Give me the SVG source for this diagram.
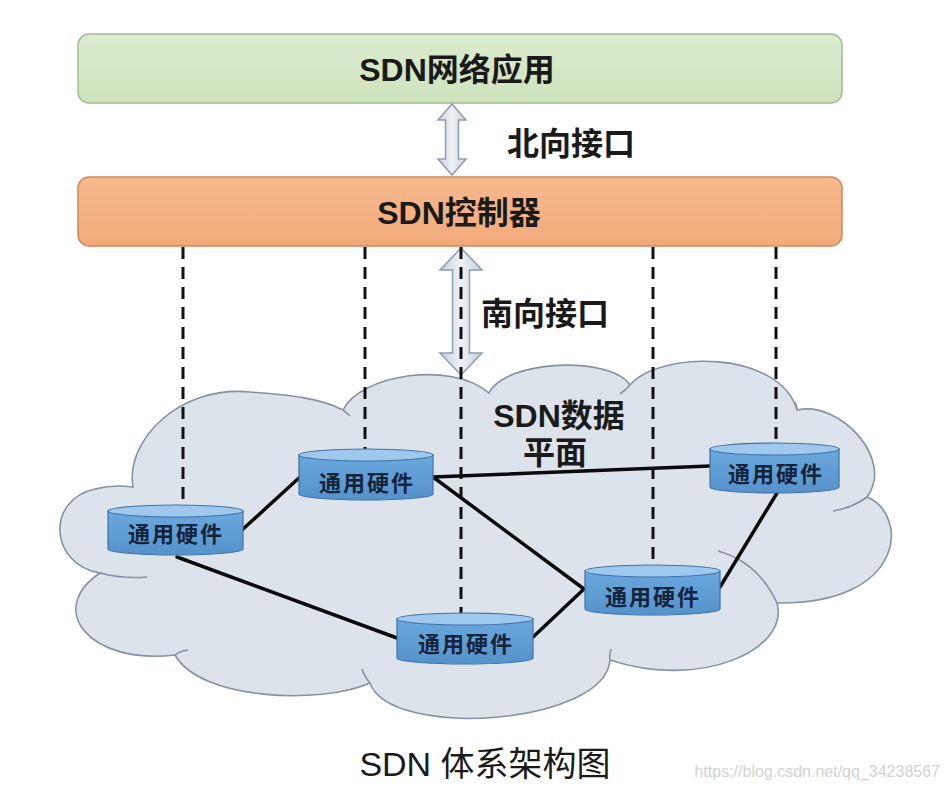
<svg xmlns="http://www.w3.org/2000/svg" width="949" height="790" viewBox="0 0 949 790">
<defs>
<linearGradient id="gGreen" x1="0" y1="0" x2="0" y2="1"><stop offset="0" stop-color="#dcecd0"/><stop offset="1" stop-color="#cde3bc"/></linearGradient>
<linearGradient id="gOrange" x1="0" y1="0" x2="0" y2="1"><stop offset="0" stop-color="#f7b98e"/><stop offset="1" stop-color="#f2aa7a"/></linearGradient>
<linearGradient id="gArrow" x1="0" y1="0" x2="1" y2="0"><stop offset="0" stop-color="#c8d1dc"/><stop offset="0.5" stop-color="#eef1f4"/><stop offset="1" stop-color="#c8d1dc"/></linearGradient>
<linearGradient id="gCyl" x1="0" y1="0" x2="0" y2="1"><stop offset="0" stop-color="#6aa8de"/><stop offset="1" stop-color="#5592cc"/></linearGradient>
<style>
.bar{stroke-width:1.5}
.t{font-family:'Liberation Sans','Noto Sans CJK SC',sans-serif;fill:#1a1a1a;text-anchor:middle}
.big{font-size:32px;font-weight:bold}
.hw{font-size:22px;letter-spacing:2px;fill:#14233a;font-weight:bold}
.arrow{fill:url(#gArrow);stroke:#8c9db2;stroke-width:1.5}
.solid{stroke:#0a0a0a;stroke-width:3.5;fill:none;stroke-linecap:round}
.dash{stroke:#111;stroke-width:3;stroke-dasharray:12 8;fill:none}
.cyl{fill:url(#gCyl);stroke:#3f72a8;stroke-width:1.2}
.cyltop{fill:#9ec8ee;stroke:#3f72a8;stroke-width:1.2}
.cloud{fill:#dde3eb;stroke:#8592a3;stroke-width:1.6}
.curl{fill:none;stroke:#8592a3;stroke-width:1.6}
</style>
</defs>
<rect width="949" height="790" fill="#ffffff"/>

<g id="data-plane">
<path class="cloud" d="M100,573 C50,565 45,500 95,489 C110,485 125,486 133,487 C125,440 180,385 250,392 C290,395 320,398 343,410 C360,375 450,360 489,393 C505,360 610,355 630,385 C660,350 780,350 797,410 C840,400 895,460 867,497 C910,515 905,605 777,603 C790,650 700,690 610,660 C605,725 390,740 370,683 C320,705 200,700 175,655 C90,665 45,610 100,573 Z"/>
<path class="curl" d="M100,573 Q122,579 147,577"/>
<path class="curl" d="M175,655 Q180,651 188,650"/>
<path class="curl" d="M370,683 Q364,676 362,669"/>
<path class="curl" d="M610,660 Q609,655 611,649"/>
<path class="curl" d="M777,603 Q758,562 718,551"/>
<path class="curl" d="M867,497 Q852,508 833,511"/>
<path class="curl" d="M797,410 Q797,406 795,402"/>
<path class="curl" d="M630,385 Q626,390 620,394"/>
<path class="curl" d="M343,410 Q347,413 350,416"/>
<text class="t big" x="559" y="427">SDN数据</text>
<text class="t big" x="555" y="464">平面</text>
</g>

<g id="app-layer">
<rect class="bar" x="78" y="34" width="764" height="69" rx="11" fill="url(#gGreen)" stroke="#a3bd93"/>
<text class="t big" x="457" y="81">SDN网络应用</text>
</g>

<g id="controller">
<rect class="bar" x="78" y="177" width="764" height="69" rx="11" fill="url(#gOrange)" stroke="#cc8a5c"/>
<text class="t big" x="459" y="224">SDN控制器</text>
</g>

<g id="northbound">
<path class="arrow" d="M452,104 L466,120 L458.5,120 L458.5,159 L466,159 L452,175 L438,159 L445.5,159 L445.5,120 L438,120 Z"/>
<text class="t big" x="571" y="155">北向接口</text>
</g>

<g id="southbound">
<path class="arrow" d="M461,248 L482,270 L469.5,270 L469.5,353 L482,353 L461,375 L440,353 L452.5,353 L452.5,270 L440,270 Z"/>
<text class="t big" x="545" y="325">南向接口</text>
</g>

<g id="connectors">
<line class="solid" x1="242" y1="530" x2="300" y2="477"/>
<line class="solid" x1="177" y1="557" x2="397" y2="638"/>
<line class="solid" x1="433" y1="477" x2="710" y2="466"/>
<line class="solid" x1="433" y1="477" x2="584" y2="589"/>
<line class="solid" x1="584" y1="589" x2="532" y2="638"/>
<line class="solid" x1="720" y1="587" x2="777" y2="493"/>
<line class="dash" x1="183" y1="247" x2="183" y2="508"/>
<line class="dash" x1="365" y1="247" x2="365" y2="452"/>
<line class="dash" x1="461" y1="247" x2="461" y2="616"/>
<line class="dash" x1="653" y1="247" x2="653" y2="568"/>
<line class="dash" x1="776" y1="247" x2="776" y2="446"/>
</g>

<g id="hw1">
<path class="cyl" d="M108,511 V549 A67.5,6 0 0 0 243,549 V511 Z"/>
<ellipse class="cyltop" cx="175.5" cy="511" rx="67.5" ry="6"/>
<text class="t hw" x="176" y="542">通用硬件</text>
</g>
<g id="hw2">
<path class="cyl" d="M299,455 V494 A67,6 0 0 0 433,494 V455 Z"/>
<ellipse class="cyltop" cx="366" cy="455" rx="67" ry="6"/>
<text class="t hw" x="367" y="491">通用硬件</text>
</g>
<g id="hw3">
<path class="cyl" d="M710,449 V487 A64.5,6 0 0 0 839,487 V449 Z"/>
<ellipse class="cyltop" cx="774.5" cy="449" rx="64.5" ry="6"/>
<text class="t hw" x="776" y="482">通用硬件</text>
</g>
<g id="hw4">
<path class="cyl" d="M585,571 V609 A67.5,6 0 0 0 720,609 V571 Z"/>
<ellipse class="cyltop" cx="652.5" cy="571" rx="67.5" ry="6"/>
<text class="t hw" x="653" y="605">通用硬件</text>
</g>
<g id="hw5">
<path class="cyl" d="M397,619 V658 A68,6 0 0 0 533,658 V619 Z"/>
<ellipse class="cyltop" cx="465" cy="619" rx="68" ry="6"/>
<text class="t hw" x="466" y="652">通用硬件</text>
</g>

<g id="caption">
<text class="t" x="485" y="776" font-size="34">SDN 体系架构图</text>
<text x="940" y="777" text-anchor="end" font-family="'Liberation Sans',sans-serif" font-size="16" fill="#d2d2d2">https://blog.csdn.net/qq_34238567</text>
</g>
</svg>
